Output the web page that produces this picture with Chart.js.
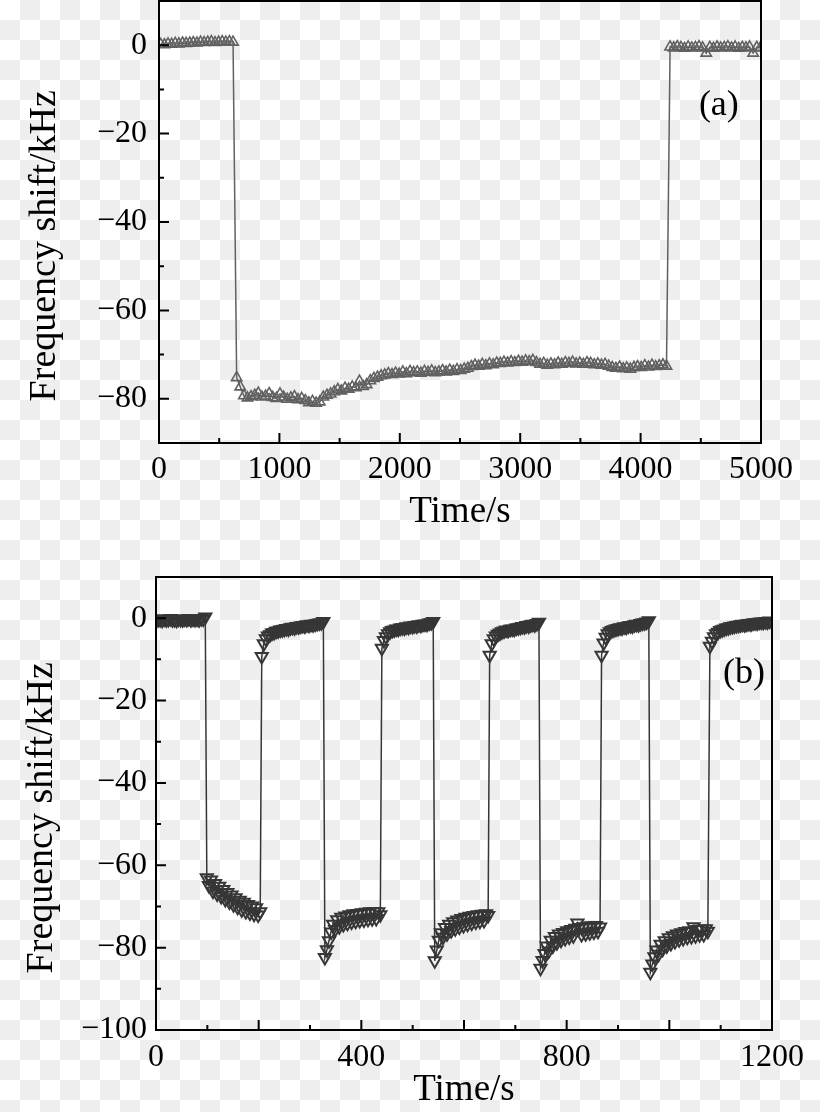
<!DOCTYPE html>
<html>
<head>
<meta charset="utf-8">
<script src="https://cdn.jsdelivr.net/npm/chart.js@4.4.1/dist/chart.umd.min.js"></script>
<style>
    html, body {
        margin: 0;
        padding: 0;
        width: 820px;
        height: 1112px;
        overflow: hidden;
        background-color: #ffffff;
        background-image: conic-gradient(#eeeeee 25%, transparent 0 50%, #eeeeee 0 75%, transparent 0);
        background-size: 40px 40px;
    }
    canvas {
        position: absolute;
        left: 0;
    }
    #panelA { top: 0; }
    #panelB { top: 550px; }
</style>
</head>
<body>
<canvas id="panelA" width="820" height="550"></canvas>
<canvas id="panelB" width="820" height="562"></canvas>
<script>
// ---- panel (a): one long exposure, sampled every 30 s ----
const stepA = 30;
const segmentStartA = [15, 645, 4245];
const shiftBeforeA = [0.2, 0.1, 0.3, 0.2, 0.4, 0.3, 0.5, 0.4, 0.5, 0.6, 0.5, 0.7, 0.6, 0.7, 0.8, 0.6, 0.7, 0.8, 0.7, 0.8, 0.7];
const shiftExposedA = [
    -75.2, -77.3, -79.3, -79.8, -79.5, -79.2, -78.7, -79.6, -79.4, -78.8,
    -79.7, -79.9, -78.9, -79.6, -80.1, -79.8, -79.5, -80.2, -79.9, -80.4,
    -80.9, -80.6, -81.0, -80.7, -79.6, -79.2, -78.9, -78.4, -77.9, -78.2,
    -77.6, -77.8, -77.3, -77.5, -76.0, -77.2, -76.8, -75.9, -75.4, -75.1,
    -74.8, -74.6, -74.3, -74.5, -74.2, -74.4, -73.9, -74.3, -73.8, -74.1,
    -73.9, -74.2, -73.8, -74.0, -73.7, -74.1, -73.9, -73.6, -73.9, -73.5,
    -73.8, -73.4, -73.6, -73.3, -73.1, -72.7, -72.4, -72.6, -72.2, -72.5,
    -72.1, -72.3, -71.9, -72.0, -71.7, -71.9, -71.6, -71.8, -71.5, -71.7,
    -71.4, -71.6, -71.3, -71.8, -72.2, -72.0, -72.4, -72.1, -72.3, -71.9,
    -72.2, -71.8, -72.0, -71.7, -72.1, -71.9, -72.2, -71.8, -72.0, -72.3,
    -72.1, -72.4, -72.2, -72.6, -72.9, -73.1, -72.8, -73.2, -73.0, -73.3,
    -72.9, -72.7, -72.9, -72.5, -72.8, -72.4, -72.7, -72.5, -72.3, -72.6
];
const shiftAfterA = [-0.4, -0.6, -0.3, -0.5, -0.7, -0.4, -0.6, -0.5, -0.3, -0.6, -1.8, -0.5, -0.7, -0.4, -0.6, -0.5, -0.3, -0.6, -0.4, -0.7, -0.5, -0.6, -0.4, -1.8, -0.5, -0.6];

const xTickLabelsA = [0, 1000, 2000, 3000, 4000, 5000];
const xMajorA = [1000, 2000, 3000, 4000];
const xMinorA = [500, 1500, 2500, 3500, 4500];
const yTickLabelsA = [0, -20, -40, -60, -80];
const yMajorA = [0, -20, -40, -60, -80];
const yMinorA = [-10, -30, -50, -70];

// ---- panel (b): five on/off cycles, sampled every 4 s ----
const stepB = 4;
const segmentStartB = [0, 99, 206, 329, 440, 543, 650, 749, 868, 963, 1079];
const baselineB = [-0.2, -0.4, -0.3, -0.5, -0.2, -0.4, -0.3, -0.1, -0.4, -0.3, -0.5, -0.2, -0.3, -0.4, -0.2, -0.3, -0.1, -0.4, -0.2, -0.3, -0.2, -0.4, -0.1, -0.2, 0.3];
const onCycle1B = [-63.0, -64.9, -63.6, -66.3, -64.4, -67.0, -65.1, -67.6, -65.9, -68.3, -66.6, -68.9, -67.2, -69.6, -67.9, -70.2, -68.5, -70.8, -69.0, -71.2, -69.5, -71.6, -69.9, -71.9, -70.3, -72.1, -71.3];
const offCycle1B = [-9.3, -6.2, -5.0, -4.3, -4.0, -3.6, -3.5, -3.2, -3.1, -2.9, -2.8, -2.7, -2.5, -2.6, -2.3, -2.2, -2.3, -2.0, -2.1, -1.9, -1.8, -1.9, -1.6, -1.7, -1.5, -1.6, -1.4, -1.3, -1.2, -1.1, -0.8];
const onCycle2B = [-82.4, -80.5, -78.3, -76.2, -74.3, -75.6, -73.2, -74.9, -72.6, -74.4, -72.3, -74.1, -72.0, -73.8, -71.8, -73.6, -71.7, -73.4, -71.5, -73.3, -71.4, -73.1, -71.3, -73.0, -71.2, -72.9, -71.3, -72.0];
const offCycle2B = [-7.3, -5.4, -4.5, -3.8, -3.3, -3.0, -2.9, -2.6, -2.7, -2.4, -2.3, -2.4, -2.1, -2.2, -1.9, -2.0, -1.8, -1.9, -1.6, -1.7, -1.5, -1.4, -1.5, -1.2, -1.1, -0.8];
const onCycle3B = [-83.2, -80.6, -78.2, -76.4, -77.5, -75.1, -76.6, -74.3, -75.9, -73.7, -75.4, -73.3, -75.0, -72.9, -74.6, -72.6, -74.3, -72.4, -74.0, -72.2, -73.8, -72.0, -73.6, -71.9, -73.4, -71.8, -72.2];
const offCycle3B = [-9.0, -6.2, -5.0, -4.3, -3.9, -3.6, -3.3, -3.1, -2.9, -3.0, -2.7, -2.6, -2.7, -2.4, -2.3, -2.2, -2.0, -2.1, -1.8, -1.9, -1.6, -1.5, -1.6, -1.3, -1.0];
const onCycle4B = [-85.0, -83.1, -81.4, -79.6, -80.8, -78.2, -79.6, -77.3, -78.8, -76.7, -78.2, -76.3, -77.8, -75.9, -77.4, -75.6, -77.1, -75.3, -74.0, -75.1, -76.8, -74.9, -76.6, -74.8, -76.4, -74.7, -76.2, -74.6, -76.0, -75.0];
const offCycle4B = [-9.0, -6.0, -4.6, -3.8, -3.3, -3.0, -2.8, -2.6, -2.5, -2.3, -2.4, -2.1, -2.2, -1.9, -1.8, -1.9, -1.6, -1.5, -1.6, -1.3, -1.2, -1.1, -0.9, -0.6];
const onCycle5B = [-86.0, -84.0, -82.2, -80.6, -81.6, -79.2, -80.4, -78.3, -79.6, -77.6, -79.0, -77.1, -78.5, -76.7, -78.1, -76.4, -77.8, -76.1, -77.5, -75.9, -77.3, -74.9, -77.1, -75.6, -76.9, -75.5, -76.8, -75.4, -76.0];
const offCycle5B = [-6.8, -5.6, -4.5, -3.8, -3.4, -3.0, -2.8, -2.6, -2.4, -2.3, -2.1, -2.0, -1.9, -1.8, -1.7, -1.6, -1.5, -1.6, -1.4, -1.3, -1.4, -1.2, -1.1, -1.2, -1.0, -0.9, -1.0, -0.8, -0.9, -0.7, -0.8];

const xTickLabelsB = [0, 400, 800, 1200];
const xMajorB = [200, 400, 600, 800, 1000];
const xMinorB = [100, 300, 500, 700, 900, 1100];
const yTickLabelsB = [0, -20, -40, -60, -80, -100];
const yMajorB = [0, -20, -40, -60, -80];
const yMinorB = [-10, -30, -50, -70, -90];

const FONT = "'Liberation Serif', 'Times New Roman', serif";
const NBSP = "\u00a0";

function buildPoints(starts, step, segments) {
    return segments.flatMap((values, k) =>
        values.map((v, i) => ({ x: starts[k] + i * step, y: v }))
    );
}

function formatTick(v) {
    return v < 0 ? "\u2212" + Math.abs(v) : String(v);
}

// frame box, inward ticks and the panel letter
const frameTicks = {
    id: "frameTicks",
    afterDatasetsDraw(chart, args, opts) {
        const { ctx, chartArea: area, scales: { x, y } } = chart;
        ctx.save();
        ctx.strokeStyle = "#000";
        ctx.lineWidth = 2;
        ctx.beginPath();
        const xMark = (v, len) => {
            const px = x.getPixelForValue(v);
            ctx.moveTo(px, area.bottom);
            ctx.lineTo(px, area.bottom - len);
        };
        const yMark = (v, len) => {
            const py = y.getPixelForValue(v);
            ctx.moveTo(area.left, py);
            ctx.lineTo(area.left + len, py);
        };
        opts.xMajor.forEach(v => xMark(v, 10));
        opts.xMinor.forEach(v => xMark(v, 5));
        opts.yMajor.forEach(v => yMark(v, 10));
        opts.yMinor.forEach(v => yMark(v, 5));
        ctx.stroke();
        ctx.strokeRect(area.left, area.top, area.width, area.height);

        ctx.fillStyle = "#000";
        ctx.font = "36px " + FONT;
        ctx.textAlign = "center";
        ctx.textBaseline = "middle";
        ctx.fillText(opts.label, x.getPixelForValue(opts.labelAt[0]), y.getPixelForValue(opts.labelAt[1]));
        ctx.restore();
    },
};

function makePanel(canvasId, cfg) {
    const ctx = document.getElementById(canvasId).getContext("2d");
    return new Chart(ctx, {
        type: "line",
        data: {
            datasets: [
                {
                    data: cfg.points,
                    borderColor: cfg.color,
                    borderWidth: 1.5,
                    pointStyle: "triangle",
                    pointRotation: cfg.rotation,
                    pointRadius: cfg.radius,
                    pointBorderWidth: cfg.markerWidth,
                    pointBorderColor: cfg.color,
                    pointBackgroundColor: "rgba(0,0,0,0)",
                    tension: 0,
                },
            ],
        },
        options: {
            responsive: false,
            animation: false,
            devicePixelRatio: 1,
            layout: { padding: cfg.padding, autoPadding: false },
            plugins: {
                legend: { display: false },
                tooltip: { enabled: false },
                frameTicks: cfg.marks,
            },
            scales: {
                x: {
                    type: "linear",
                    min: cfg.xRange[0],
                    max: cfg.xRange[1],
                    afterBuildTicks: s => { s.ticks = cfg.xLabels.map(v => ({ value: v })); },
                    afterFit: s => { s.height = cfg.xHeight; s.paddingLeft = 0; s.paddingRight = 0; },
                    grid: { display: false, drawTicks: false },
                    border: { display: false },
                    ticks: {
                        padding: cfg.xPad,
                        autoSkip: false,
                        maxRotation: 0,
                        color: "#000",
                        font: { family: FONT, size: 32 },
                        callback: v => formatTick(v),
                    },
                    title: {
                        display: true,
                        text: "Time/s",
                        color: "#000",
                        font: { family: FONT, size: 37 },
                        padding: { top: 0, bottom: cfg.xTitlePad },
                    },
                },
                y: {
                    min: cfg.yRange[0],
                    max: cfg.yRange[1],
                    afterBuildTicks: s => { s.ticks = cfg.yLabels.map(v => ({ value: v })); },
                    afterFit: s => { s.width = cfg.yWidth; s.paddingTop = 0; s.paddingBottom = 0; },
                    grid: { display: false, drawTicks: false },
                    border: { display: false },
                    ticks: {
                        padding: cfg.yPad,
                        color: "#000",
                        font: { family: FONT, size: 32 },
                        callback: v => formatTick(v),
                    },
                    title: {
                        display: true,
                        text: "Frequency shift/kHz" + NBSP.repeat(cfg.titleShift),
                        color: "#000",
                        font: { family: FONT, size: 38 },
                        padding: { top: cfg.yTitlePad, bottom: 0 },
                    },
                },
            },
        },
        plugins: [frameTicks],
    });
}

makePanel("panelA", {
    points: buildPoints(segmentStartA, stepA, [shiftBeforeA, shiftExposedA, shiftAfterA]),
    color: "#616161",
    rotation: 0,
    radius: 6,
    markerWidth: 1.6,
    padding: { top: 1, right: 59, left: 0, bottom: 0 },
    xRange: [0, 5000],
    yRange: [-90, 10],
    xLabels: xTickLabelsA,
    yLabels: yTickLabelsA,
    xHeight: 107,
    yWidth: 159,
    xPad: 7,
    yPad: 12,
    xTitlePad: 16,
    yTitlePad: 22,
    titleShift: 5,
    marks: { xMajor: xMajorA, xMinor: xMinorA, yMajor: yMajorA, yMinor: yMinorA, label: "(a)", labelAt: [4650, -13.6] },
});

makePanel("panelB", {
    points: buildPoints(segmentStartB, stepB, [
        baselineB, onCycle1B, offCycle1B, onCycle2B, offCycle2B, onCycle3B,
        offCycle3B, onCycle4B, offCycle4B, onCycle5B, offCycle5B,
    ]),
    color: "#363636",
    rotation: 180,
    radius: 7,
    markerWidth: 2,
    padding: { top: 27, right: 48, left: 0, bottom: 0 },
    xRange: [0, 1200],
    yRange: [-100, 10],
    xLabels: xTickLabelsB,
    yLabels: yTickLabelsB,
    xHeight: 82,
    yWidth: 156,
    xPad: 8,
    yPad: 9,
    xTitlePad: 0,
    yTitlePad: 19,
    titleShift: 3,
    marks: { xMajor: xMajorB, xMinor: xMinorB, yMajor: yMajorB, yMinor: yMinorB, label: "(b)", labelAt: [1145.5, -13.4] },
});
</script>
</body>
</html>
